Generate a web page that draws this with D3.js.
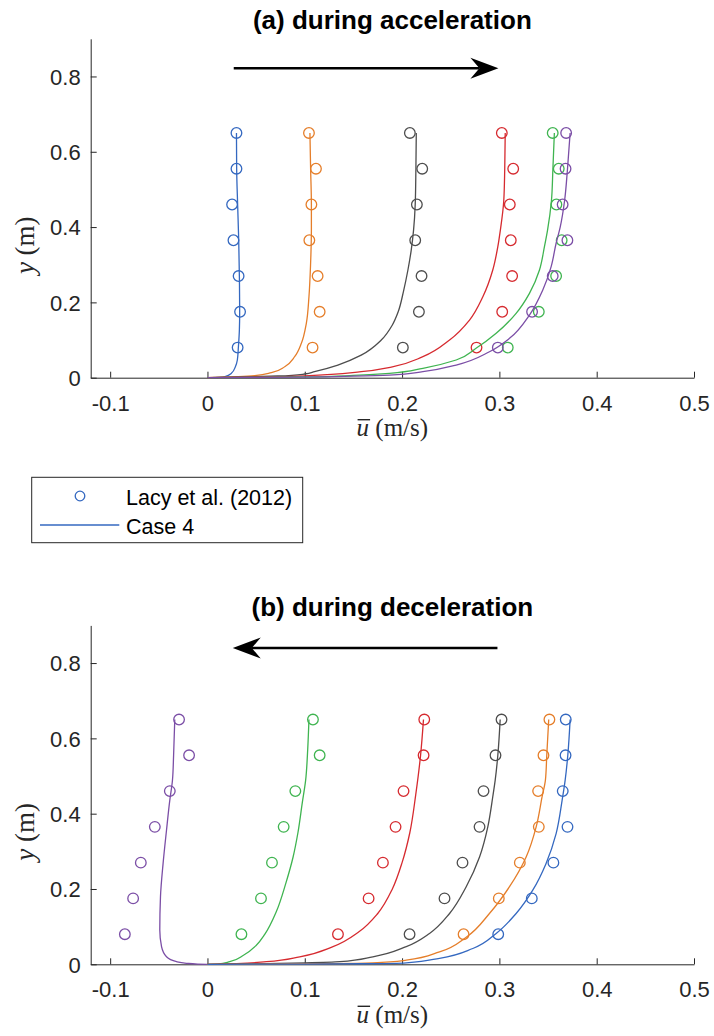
<!DOCTYPE html>
<html>
<head>
<meta charset="utf-8">
<script src="https://cdn.jsdelivr.net/npm/d3@7"></script>
<style>
    body { margin: 0; background: #fff; }
    svg { display: block; }
</style>
</head>
<body>
<svg id="chart" width="714" height="1036"></svg>
<script>
// heights of the measured points (m)
let measuredY = [0.08, 0.175, 0.27, 0.365, 0.46, 0.555, 0.65];
let xTicks = [-0.1, 0, 0.1, 0.2, 0.3, 0.4, 0.5];
let yTicks = [0, 0.2, 0.4, 0.6, 0.8];
let legendLabels = ['Lacy et al. (2012)', 'Case 4'];
let titles = ['(a) during acceleration', '(b) during deceleration'];

// (a) acceleration: measured u at measuredY
let accBlue = [0.031, 0.0335, 0.032, 0.0267, 0.0253, 0.0298, 0.0298];
let accOrange = [0.108, 0.1153, 0.1132, 0.1047, 0.1068, 0.1115, 0.1043];
let accGray = [0.2008, 0.2173, 0.22, 0.2135, 0.2152, 0.2207, 0.208];
let accRed = [0.2765, 0.3029, 0.3131, 0.3117, 0.3107, 0.3142, 0.3025];
let accGreen = [0.3086, 0.3405, 0.3583, 0.364, 0.3586, 0.361, 0.3548];
let accPurple = [0.2984, 0.3336, 0.3548, 0.3699, 0.365, 0.368, 0.3686];

// (a) acceleration: model profiles [u, y]
let accBlueModel = [[0, 0], [0.012, 0.001], [0.018, 0.003], [0.0246, 0.0117], [0.0287, 0.0292], [0.0307, 0.047], [0.0318, 0.082], [0.0328, 0.127], [0.0331, 0.175], [0.0328, 0.268], [0.0321, 0.366], [0.031, 0.46], [0.030, 0.555], [0.0298, 0.65]];
let accOrangeModel = [[0, 0], [0.0315, 0.0027], [0.0486, 0.0053], [0.0657, 0.0133], [0.0794, 0.0292], [0.0896, 0.0558], [0.0965, 0.0914], [0.1016, 0.1445], [0.1043, 0.215], [0.106, 0.304], [0.1068, 0.392], [0.1068, 0.46], [0.106, 0.555], [0.1053, 0.65]];
let accGrayModel = [[0, 0], [0.0725, 0.0045], [0.10, 0.0098], [0.110, 0.016], [0.134, 0.0337], [0.158, 0.060], [0.1786, 0.100], [0.190, 0.140], [0.196, 0.175], [0.2015, 0.23], [0.206, 0.286], [0.2094, 0.339], [0.2118, 0.392], [0.2135, 0.46], [0.2142, 0.555], [0.2146, 0.65]];
let accRedModel = [[0, 0], [0.06, 0.002], [0.10, 0.005], [0.158, 0.016], [0.190, 0.029], [0.2214, 0.0558], [0.2488, 0.100], [0.2693, 0.153], [0.283, 0.215], [0.2932, 0.286], [0.2984, 0.348], [0.301, 0.392], [0.3045, 0.47], [0.3055, 0.555], [0.306, 0.65]];
let accGreenModel = [[0, 0], [0.10, 0.002], [0.15, 0.006], [0.187, 0.0117], [0.2214, 0.025], [0.2556, 0.047], [0.276, 0.078], [0.2967, 0.118], [0.3172, 0.171], [0.3309, 0.224], [0.3412, 0.286], [0.3463, 0.348], [0.3495, 0.392], [0.3535, 0.47], [0.355, 0.555], [0.3565, 0.65]];
let accPurpleModel = [[0, 0], [0.10, 0.0015], [0.15, 0.004], [0.187, 0.007], [0.2214, 0.016], [0.2556, 0.0337], [0.2898, 0.069], [0.3104, 0.1045], [0.3309, 0.1665], [0.3446, 0.233], [0.3532, 0.295], [0.3583, 0.357], [0.3625, 0.40], [0.367, 0.47], [0.370, 0.555], [0.3727, 0.65]];

// (b) deceleration: measured u at measuredY
let decPurple = [-0.0849, -0.0764, -0.0685, -0.0541, -0.0387, -0.0189, -0.0292];
let decGreen = [0.0349, 0.055, 0.0663, 0.0783, 0.0903, 0.1153, 0.1084];
let decRed = [0.1341, 0.1656, 0.1803, 0.1933, 0.2015, 0.2221, 0.2228];
let decGray = [0.2077, 0.2436, 0.2621, 0.2796, 0.2837, 0.296, 0.3022];
let decOrange = [0.2632, 0.2994, 0.321, 0.3405, 0.3398, 0.3453, 0.3514];
let decBlue = [0.2988, 0.3333, 0.3555, 0.37, 0.3651, 0.368, 0.3682];

// (b) deceleration: model profiles [u, y]
let decPurpleModel = [[0, 0], [-0.01, 0.0005], [-0.0216, 0.0027], [-0.0318, 0.007], [-0.0421, 0.020], [-0.0472, 0.047], [-0.049, 0.091], [-0.0483, 0.179], [-0.0456, 0.268], [-0.0421, 0.356], [-0.0387, 0.436], [-0.036, 0.488], [-0.0348, 0.555], [-0.0336, 0.65]];
let decGreenModel = [[0, 0], [0.01, 0.0005], [0.0229, 0.007], [0.037, 0.024], [0.05, 0.05], [0.059, 0.08], [0.0708, 0.14], [0.0805, 0.215], [0.088, 0.285], [0.093, 0.35], [0.0975, 0.43], [0.1009, 0.489], [0.103, 0.57], [0.1043, 0.65]];
let decRedModel = [[0, 0], [0.03, 0.002], [0.0606, 0.007], [0.0948, 0.020], [0.129, 0.047], [0.156, 0.087], [0.175, 0.135], [0.190, 0.2], [0.200, 0.27], [0.208, 0.35], [0.214, 0.45], [0.219, 0.555], [0.222, 0.65]];
let decGrayModel = [[0, 0], [0.06, 0.002], [0.10, 0.004], [0.136, 0.007], [0.170, 0.020], [0.2043, 0.047], [0.2282, 0.082], [0.2488, 0.135], [0.2659, 0.206], [0.2796, 0.285], [0.2881, 0.365], [0.2932, 0.445], [0.2957, 0.489], [0.2984, 0.555], [0.3008, 0.65]];
let decOrangeModel = [[0, 0], [0.08, 0.001], [0.13, 0.002], [0.17, 0.004], [0.2043, 0.011], [0.2385, 0.033], [0.2659, 0.072], [0.2898, 0.135], [0.3104, 0.206], [0.3275, 0.285], [0.3378, 0.365], [0.3439, 0.445], [0.3473, 0.489], [0.3487, 0.555], [0.3507, 0.65]];
let decBlueModel = [[0, 0], [0.10, 0.0005], [0.16, 0.0015], [0.2043, 0.004], [0.2385, 0.016], [0.2727, 0.042], [0.2967, 0.082], [0.3172, 0.135], [0.3343, 0.197], [0.348, 0.268], [0.3583, 0.347], [0.3645, 0.436], [0.3676, 0.489], [0.3703, 0.555], [0.3727, 0.65]];

// flow direction arrows: [tail u, tip u, y]
let accArrow = [0.027, 0.299, 0.822];
let decArrow = [0.298, 0.026, 0.84];

let colors = {
    blue: '#3468c0',
    orange: '#e57e2a',
    gray: '#4d4d4d',
    red: '#d62a2f',
    green: '#3fb450',
    purple: '#7b4ea6'
};
let axisColor = '#262626';
let sansFont = '"Liberation Sans", Arial, Helvetica, sans-serif';
let serifFont = '"Liberation Serif", "Times New Roman", serif';

let svg = d3.select('#chart');

let xAxis = d3.scaleLinear()
    .domain([-0.12, 0.5])
    .range([90.7, 694]);

let panels = [
    {
        top: 38.8, bottom: 377.7, title: titles[0], arrow: accArrow,
        measured: [
            ['blue', accBlue], ['orange', accOrange], ['gray', accGray],
            ['red', accRed], ['green', accGreen], ['purple', accPurple]
        ],
        models: [
            ['blue', accBlueModel], ['orange', accOrangeModel], ['gray', accGrayModel],
            ['red', accRedModel], ['green', accGreenModel], ['purple', accPurpleModel]
        ]
    },
    {
        top: 625.4, bottom: 964.3, title: titles[1], arrow: decArrow,
        measured: [
            ['purple', decPurple], ['green', decGreen], ['red', decRed],
            ['gray', decGray], ['orange', decOrange], ['blue', decBlue]
        ],
        models: [
            ['purple', decPurpleModel], ['green', decGreenModel], ['red', decRedModel],
            ['gray', decGrayModel], ['orange', decOrangeModel], ['blue', decBlueModel]
        ]
    }
];

panels.forEach(function(p) {
    drawPanel(p);
});

drawLegend();

function drawPanel(p) {

    let yAxis = d3.scaleLinear()
        .domain([0, 0.9])
        .range([p.bottom, p.top]);

    let g = svg.append('g');

    // bottom axis, ticks pointing inwards
    let gx = g.append('g')
        .attr('transform', 'translate(0,' + p.bottom + ')')
        .call(d3.axisBottom(xAxis)
            .tickValues(xTicks)
            .tickFormat(function(d) { return String(d); })
            .tickSizeInner(-6)
            .tickSizeOuter(0)
            .tickPadding(17.5));

    let gy = g.append('g')
        .attr('transform', 'translate(' + xAxis.range()[0] + ',0)')
        .call(d3.axisLeft(yAxis)
            .tickValues(yTicks)
            .tickFormat(function(d) { return String(d); })
            .tickSizeInner(-6)
            .tickSizeOuter(0)
            .tickPadding(10));

    [gx, gy].forEach(function(a) {
        a.select('.domain').attr('stroke', axisColor).attr('stroke-width', 1);
        a.selectAll('.tick line').attr('stroke', axisColor).attr('stroke-width', 1);
        a.selectAll('.tick text')
            .attr('fill', axisColor)
            .style('font-family', sansFont)
            .style('font-size', '22px');
    });
    gy.selectAll('.tick text').attr('dy', '0.36em');

    // measured points
    p.measured.forEach(function(s) {
        g.append('g')
            .selectAll('circle')
            .data(s[1])
            .enter()
            .append('circle')
            .attr('cx', function(d) { return xAxis(d); })
            .attr('cy', function(d, i) { return yAxis(measuredY[i]); })
            .attr('r', 5.3)
            .attr('fill', 'none')
            .attr('stroke', colors[s[0]])
            .attr('stroke-width', 1.3);
    });

    // model profiles
    let line = d3.line()
        .x(function(d) { return xAxis(d[0]); })
        .y(function(d) { return yAxis(d[1]); })
        .curve(d3.curveMonotoneY);

    p.models.forEach(function(s) {
        g.append('path')
            .datum(s[1])
            .attr('d', line)
            .attr('fill', 'none')
            .attr('stroke', colors[s[0]])
            .attr('stroke-width', 1.3);
    });

    // title
    let cx = (xAxis.range()[0] + xAxis.range()[1]) / 2;
    g.append('text')
        .attr('x', cx)
        .attr('y', p.top - 9.5)
        .attr('text-anchor', 'middle')
        .style('font-family', sansFont)
        .style('font-size', '26px')
        .style('font-weight', 'bold')
        .attr('fill', '#000')
        .text(p.title);

    // direction arrow
    let tail = xAxis(p.arrow[0]);
    let tip = xAxis(p.arrow[1]);
    let ay = yAxis(p.arrow[2]);
    let dir = tip > tail ? 1 : -1;
    g.append('line')
        .attr('x1', tail)
        .attr('x2', tip - dir * 19)
        .attr('y1', ay)
        .attr('y2', ay)
        .attr('stroke', '#000')
        .attr('stroke-width', 2.5);
    g.append('path')
        .attr('d', 'M' + tip + ',' + ay +
            'L' + (tip - dir * 28) + ',' + (ay - 10.5) +
            'L' + (tip - dir * 19) + ',' + ay +
            'L' + (tip - dir * 28) + ',' + (ay + 10.5) + 'Z')
        .attr('fill', '#000');

    // x label: u with overline (m/s)
    let xl = g.append('text')
        .attr('x', cx)
        .attr('y', p.bottom + 58.5)
        .attr('text-anchor', 'middle')
        .style('font-family', serifFont)
        .style('font-size', '25px')
        .attr('fill', axisColor);
    let uSpan = xl.append('tspan')
        .style('font-style', 'italic')
        .text('u');
    xl.append('tspan').text(' (m/s)');

    let box = xl.node().getBBox();
    let uWidth = uSpan.node().getComputedTextLength();
    g.append('line')
        .attr('x1', box.x + 1)
        .attr('x2', box.x + uWidth + 1)
        .attr('y1', p.bottom + 42)
        .attr('y2', p.bottom + 42)
        .attr('stroke', axisColor)
        .attr('stroke-width', 1.4);

    // y label
    let yl = g.append('text')
        .attr('transform', 'translate(34,' + (p.top + (p.bottom - p.top) / 2 + 37) + ') rotate(-90)')
        .attr('text-anchor', 'middle')
        .style('font-family', serifFont)
        .style('font-size', '27px')
        .attr('fill', axisColor);
    yl.append('tspan').style('font-style', 'italic').text('y');
    yl.append('tspan').text(' (m)');
}

function drawLegend() {

    let lg = svg.append('g');

    lg.append('rect')
        .attr('x', 31.7)
        .attr('y', 477.3)
        .attr('width', 271)
        .attr('height', 65.4)
        .attr('fill', '#fff')
        .attr('stroke', axisColor)
        .attr('stroke-width', 1);

    lg.append('circle')
        .attr('cx', 80)
        .attr('cy', 496)
        .attr('r', 4.8)
        .attr('fill', 'none')
        .attr('stroke', colors.blue)
        .attr('stroke-width', 1.3);

    lg.append('line')
        .attr('x1', 40)
        .attr('x2', 119.3)
        .attr('y1', 525)
        .attr('y2', 525)
        .attr('stroke', colors.blue)
        .attr('stroke-width', 1.3);

    legendLabels.forEach(function(label, i) {
        lg.append('text')
            .attr('x', 126)
            .attr('y', 505 + i * 29)
            .style('font-family', sansFont)
            .style('font-size', '21.5px')
            .attr('fill', '#000')
            .text(label);
    });
}
</script>
</body>
</html>
